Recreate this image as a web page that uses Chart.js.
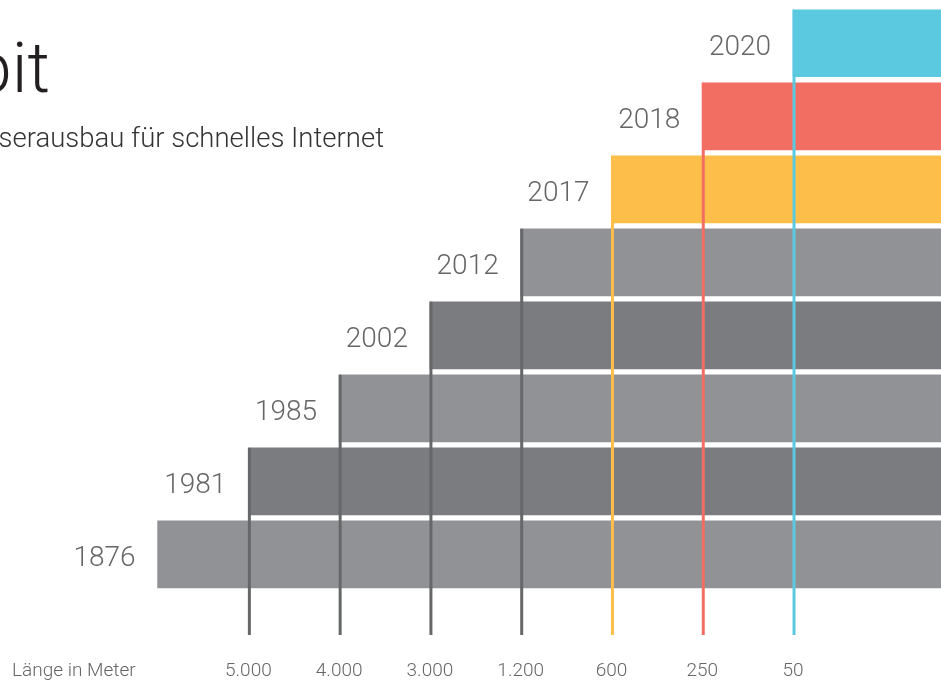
<!DOCTYPE html>
<html>
<head>
<meta charset="utf-8">
<script src="https://cdn.jsdelivr.net/npm/chart.js@4"></script>
<style>
  html, body { margin: 0; padding: 0; background: #fff; }
  #wrap { width: 941px; height: 682px; position: relative; }
</style>
</head>
<body>
<div id="wrap"><canvas id="myChart" width="941" height="682"></canvas></div>
<script>
// Ausbaustufen, von unten nach oben
const years = ['1876', '1981', '1985', '2002', '2012', '2017', '2018', '2020'];
// Länge der Kupferleitung bis zum Anschluss (Meter), 1876 ohne Angabe
const lengths = [null, 5000, 4000, 3000, 1200, 600, 250, 50];
const barColors = ['#919295', '#7b7c80', '#919295', '#7b7c80', '#919295', '#fdbf4a', '#f36e62', '#5bc9df'];
const lineColors = ['#666769', '#666769', '#666769', '#666769', '#666769', '#fdbf4a', '#f36e62', '#5bc9df'];

const END = 9;
const FONT = 'Roboto';

const bars = years.map((y, i) => ({ x: [i, END], y: i }));

const stepLines = {
    id: 'stepLines',
    beforeDatasetsDraw(chart) {
        const { ctx } = chart;
        ctx.save();
        // Titel, links angeschnitten
        ctx.fillStyle = '#231f20';
        ctx.textAlign = 'right';
        ctx.textBaseline = 'alphabetic';
        ctx.font = '300 70px ' + FONT;
        ctx.fillText('Gigabit', 50, 92);
        ctx.font = '300 27.5px ' + FONT;
        ctx.fillStyle = '#333';
        ctx.fillText('Glasfaserausbau für schnelles Internet', 384, 147);
        ctx.restore();
    },
    afterDatasetsDraw(chart) {
        const { ctx, chartArea, scales } = chart;
        const meta = chart.getDatasetMeta(0);
        ctx.save();
        meta.data.forEach((bar, i) => {
            const x = scales.x.getPixelForValue(i);
            const top = bar.y - bar.height / 2;
            if (lengths[i] !== null) {
                ctx.strokeStyle = lineColors[i];
                ctx.lineWidth = 3;
                ctx.beginPath();
                ctx.moveTo(x + 1, top);
                ctx.lineTo(x + 1, chartArea.bottom);
                ctx.stroke();
                // Länge unter der Linie
                ctx.fillStyle = '#666';
                ctx.font = '300 19px ' + FONT;
                ctx.textAlign = 'center';
                ctx.textBaseline = 'middle';
                ctx.fillText(lengths[i].toLocaleString('de-DE'), x, 671);
            }
            // Jahreszahl links vom Balken
            ctx.fillStyle = '#666';
            ctx.font = '300 28px ' + FONT;
            ctx.textAlign = 'right';
            ctx.textBaseline = 'middle';
            ctx.fillText(years[i], x - 22, bar.y + 5);
        });
        ctx.font = '300 19px ' + FONT;
        ctx.textAlign = 'left';
        ctx.textBaseline = 'middle';
        ctx.fillStyle = '#666';
        ctx.fillText('Länge in Meter', 12, 671);
        ctx.restore();
    }
};

const config = {
    type: 'bar',
    data: {
        datasets: [{
            data: bars,
            backgroundColor: barColors,
            borderWidth: 0,
            barThickness: 67
        }]
    },
    options: {
        responsive: false,
        animation: false,
        indexAxis: 'y',
        layout: { padding: { left: 0, right: 0, top: 0, bottom: 47 } },
        plugins: {
            legend: { display: false },
            tooltip: { enabled: false }
        },
        scales: {
            x: {
                type: 'linear',
                min: -1.736,
                max: 8.63,
                display: false
            },
            y: {
                type: 'linear',
                min: -1.105,
                max: 7.593,
                offset: false,
                display: false
            }
        }
    },
    plugins: [stepLines]
};

const myChart = new Chart(document.getElementById('myChart'), config);
</script>
</body>
</html>
